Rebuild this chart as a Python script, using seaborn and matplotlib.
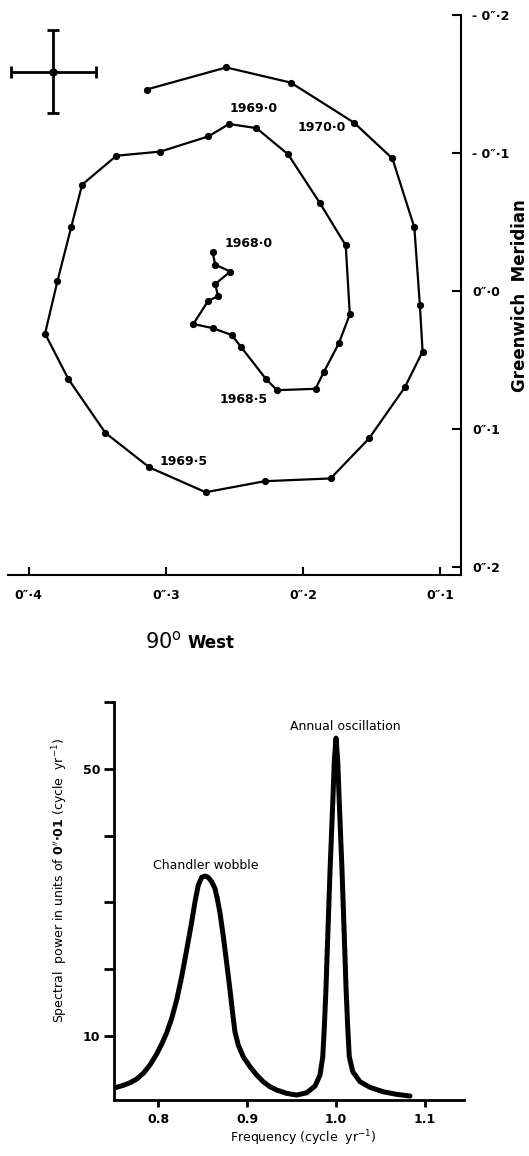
import seaborn as sns
import pandas as pd
import matplotlib.pyplot as plt

# Polar motion 1968.0 - 1970.1 (arcsec)
pole_x = [0.266, 0.264, 0.253, 0.264, 0.262, 0.269, 0.280, 0.266, 0.252, 0.245,
          0.227, 0.219, 0.191, 0.185, 0.174, 0.166, 0.169, 0.188, 0.211, 0.234,
          0.254, 0.269, 0.304, 0.336, 0.361, 0.369, 0.379, 0.388, 0.371, 0.344,
          0.312, 0.271, 0.228, 0.180, 0.152, 0.126, 0.113, 0.115, 0.119, 0.135,
          0.163, 0.209, 0.256, 0.314]
pole_y = [-0.028, -0.019, -0.014, -0.005, 0.004, 0.007, 0.024, 0.027, 0.032, 0.041,
          0.064, 0.072, 0.071, 0.059, 0.038, 0.017, -0.033, -0.064, -0.099, -0.118,
          -0.121, -0.112, -0.101, -0.098, -0.077, -0.046, -0.007, 0.031, 0.064, 0.103,
          0.128, 0.146, 0.138, 0.136, 0.107, 0.070, 0.044, 0.010, -0.046, -0.096,
          -0.122, -0.151, -0.162, -0.146]
epoch_labels = ["1968·0", "1968·5", "1969·0", "1969·5", "1970·0"]
epoch_index = [0, 10, 20, 30, 40]

# error cross
err_x, err_y = 0.382, -0.159
err_dx, err_dy = 0.031, 0.030

x_ticks = [0.4, 0.3, 0.2, 0.1]
x_ticklabels = ["0″·4", "0″·3", "0″·2", "0″·1"]
y_ticks = [-0.2, -0.1, 0.0, 0.1, 0.2]
y_ticklabels = ["- 0″·2", "- 0″·1", "0″·0", "0″·1", "0″·2"]

# Power spectrum
freq = [0.7517, 0.7610, 0.7685, 0.7761, 0.7835, 0.7910, 0.7985, 0.8042, 0.8098, 0.8154,
        0.8210, 0.8266, 0.8322, 0.8379, 0.8416, 0.8453, 0.8491, 0.8528, 0.8565, 0.8603,
        0.8640, 0.8666, 0.8697, 0.8734, 0.8772, 0.8809, 0.8839, 0.8865, 0.8902, 0.8958,
        0.9034, 0.9109, 0.9183, 0.9258, 0.9334, 0.9446, 0.9558, 0.9671, 0.9764, 0.9820,
        0.9851, 0.9869, 0.9888, 0.9907, 0.9933, 0.9963, 0.9981, 1.0000, 1.0019, 1.0037,
        1.0067, 1.0093, 1.0112, 1.0131, 1.0149, 1.0188, 1.0270, 1.0382, 1.0531, 1.0682,
        1.0831]
power = [2.26, 2.62, 3.01, 3.56, 4.42, 5.66, 7.31, 8.80, 10.49, 12.64,
         15.39, 18.88, 22.87, 27.11, 30.1, 32.6, 33.76, 33.95, 33.76, 33.1,
         32.1, 30.6, 28.4, 24.9, 20.9, 16.9, 13.4, 10.6, 8.65, 6.9,
         5.4, 4.16, 3.16, 2.41, 1.92, 1.42, 1.17, 1.51, 2.51, 4.16,
         6.9, 11.4, 17.4, 24.9, 34.9, 44.8, 51.3, 54.6, 51.3, 44.8,
         34.9, 24.9, 17.4, 11.4, 6.9, 4.66, 3.16, 2.32, 1.66, 1.27,
         1.02]

pole = pd.DataFrame({"x": pole_x, "y": pole_y})
spec = pd.DataFrame({"freq": freq, "power": power})

sns.set_style("ticks")
plt.rcParams["font.family"] = ["DejaVu Sans"]
plt.rcParams.update({"text.color": "black", "axes.labelcolor": "black",
                     "xtick.color": "black", "ytick.color": "black",
                     "axes.edgecolor": "black"})

fig = plt.figure(figsize=(5.29, 11.56), dpi=100)

# ---- top panel: path of the pole ----
ax1 = fig.add_axes([0.0151, 0.5026, 0.8564, 0.4844])
sns.lineplot(data=pole, x="x", y="y", sort=False, estimator=None, color="black",
             lw=1.6, marker="o", markersize=5.2, markeredgewidth=0, ax=ax1)
ax1.errorbar(err_x, err_y, xerr=err_dx, yerr=err_dy, fmt="o", color="black",
             ms=5, elinewidth=2, capsize=4, capthick=2)

offsets = [(8.6, 6.5), (1.4, -14.4), (0.7, 10.8), (7.2, 4.3), (-5.8, -3.6)]
aligns = ["left", "right", "left", "left", "right"]
for lab, i, off, ha in zip(epoch_labels, epoch_index, offsets, aligns):
    ax1.annotate(lab, (pole_x[i], pole_y[i]), xytext=off, textcoords="offset points",
                 ha=ha, va="center", fontsize=9, fontweight="bold")

ax1.set_xlim(0.415, 0.085)
ax1.set_ylim(0.206, -0.2)
sns.despine(ax=ax1, left=True, top=True, right=False)
ax1.spines["bottom"].set_linewidth(1.5)
ax1.spines["right"].set_linewidth(1.5)
ax1.yaxis.tick_right()
ax1.set_xticks(x_ticks)
ax1.set_xticklabels(x_ticklabels, fontsize=9, fontweight="bold")
ax1.set_yticks(y_ticks)
ax1.set_yticklabels(y_ticklabels, fontsize=9, fontweight="bold")
ax1.tick_params(axis="x", direction="in", length=6, width=1.5, pad=10)
ax1.tick_params(axis="y", direction="in", length=6.5, width=1.5, pad=8)
ax1.set_xlabel("")
ax1.set_ylabel("")

fig.text(145 / 529, 1 - 648 / 1156, "90$^{\\rm o}$", fontsize=15, ha="left", va="baseline")
fig.text(188 / 529, 1 - 648 / 1156, "West", fontsize=12, fontweight="bold",
         ha="left", va="baseline")
fig.text(520 / 529, 1 - 296 / 1156, "Greenwich  Meridian", rotation=90, fontsize=12,
         fontweight="bold", ha="center", va="center")

# ---- bottom panel: spectrum ----
ax2 = fig.add_axes([0.2155, 0.0484, 0.6617, 0.3443])
sns.lineplot(data=spec, x="freq", y="power", color="black", lw=3.6, ax=ax2)
ax2.set_xlim(0.7506, 1.1438)
ax2.set_ylim(0.42, 60)
sns.despine(ax=ax2)
ax2.spines["left"].set_linewidth(2)
ax2.spines["bottom"].set_linewidth(2)
ax2.set_xticks([0.8, 0.9, 1.0, 1.1])
ax2.set_xticklabels(["0.8", "0.9", "1.0", "1.1"], fontsize=9, fontweight="bold")
ax2.set_yticks([10, 20, 30, 40, 50, 60])
ax2.set_yticklabels(["10", "", "", "", "50", ""], fontsize=9, fontweight="bold")
ax2.tick_params(axis="x", direction="out", length=5, width=2, pad=4)
ax2.tick_params(axis="y", direction="out", length=7, width=2, pad=3)

ax2.text(0.8535, 35.6, "Chandler wobble", fontsize=9, ha="center", va="center")
ax2.text(1.0105, 56.3, "Annual oscillation", fontsize=9, ha="center", va="center")

ax2.set_xlabel("Frequency (cycle  yr$^{-1}$)", fontsize=9)
ax2.xaxis.set_label_coords(0.54, -0.07)
ax2.set_ylabel("Spectral  power in units of $\\mathbf{0''{\\cdot}01}$ (cycle  yr$^{-1}$)",
               fontsize=9)
ax2.yaxis.set_label_coords(-0.125, 0.553)

fig.savefig("out.png", dpi=100)
